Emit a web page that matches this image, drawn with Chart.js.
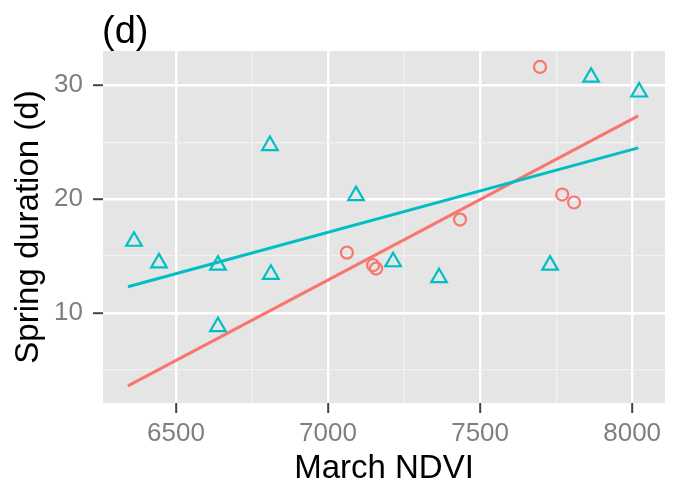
<!DOCTYPE html>
<html>
<head>
<meta charset="utf-8">
<script src="https://cdn.jsdelivr.net/npm/chart.js@4"></script>
<style>
  html, body { margin: 0; padding: 0; background: #ffffff; }
  #wrap { width: 678px; height: 485px; }
</style>
</head>
<body>
<div id="wrap"><canvas id="ndviChart"></canvas></div>
<script>
// red circles
const redX = [7062, 7148, 7158, 7434, 7697, 7770, 7809];
const redY = [15.3, 14.2, 13.9, 18.2, 31.6, 20.4, 19.7];

// teal triangles
const tealX = [6362, 6444, 6638, 6638, 6809, 6812, 7092, 7214, 7365, 7730, 7865, 8023];
const tealY = [16.3, 14.4, 14.2, 8.8, 24.7, 13.4, 20.3, 14.5, 13.1, 14.2, 30.7, 29.4];

// fitted lines (end points)
const redLineX = [6342, 8020];
const redLineY = [3.6, 27.3];
const tealLineX = [6342, 8020];
const tealLineY = [12.3, 24.5];

// ticks
const xMajor = [6500, 7000, 7500, 8000];
const xMinor = [6750, 7250, 7750];
const yMajor = [10, 20, 30];
const yMinor = [5, 15, 25];

const FONT = "'Liberation Sans', Arial, Helvetica, sans-serif";

function toPoints(xs, ys) {
    return xs.map(function(x, i){ return { x: x, y: ys[i] }; });
}

function gridColor(majors) {
    return function(ctx) {
        return majors.includes(ctx.tick.value) ? "#ffffff" : "#f2f2f2";
    };
}
function gridWidth(majors) {
    return function(ctx) {
        return majors.includes(ctx.tick.value) ? 2.4 : 1.2;
    };
}
function tickColor(majors) {
    return function(ctx) {
        return majors.includes(ctx.tick.value) ? "#444444" : "rgba(0,0,0,0)";
    };
}

// gray panel + "(d)" label
const panelPlugin = {
    id: "panel",
    beforeDraw: function(chart) {
        const a = chart.chartArea;
        const c = chart.ctx;
        c.save();
        c.fillStyle = "#e5e5e5";
        c.fillRect(a.left, a.top, a.right - a.left, a.bottom - a.top);
        c.fillStyle = "#000000";
        c.font = "38px " + FONT;
        c.textBaseline = "alphabetic";
        c.textAlign = "left";
        c.fillText("(d)", 102, 43);
        c.restore();
    }
};

new Chart(document.querySelector("#ndviChart"), {

    type: "scatter",

    data: {
        datasets: [
            {
                type: "line",
                data: toPoints(tealLineX, tealLineY),
                borderColor: "#00BFC4",
                borderWidth: 3,
                pointRadius: 0,
                fill: false
            },
            {
                type: "line",
                data: toPoints(redLineX, redLineY),
                borderColor: "#F8766D",
                borderWidth: 3,
                pointRadius: 0,
                fill: false
            },
            {
                data: toPoints(tealX, tealY),
                pointStyle: "triangle",
                pointRadius: 9,
                pointBorderWidth: 2.2,
                borderColor: "#00BFC4",
                backgroundColor: "rgba(0,0,0,0)"
            },
            {
                data: toPoints(redX, redY),
                pointStyle: "circle",
                pointRadius: 6,
                pointBorderWidth: 2.2,
                borderColor: "#F8766D",
                backgroundColor: "rgba(0,0,0,0)"
            }
        ]
    },

    options: {
        responsive: true,
        maintainAspectRatio: false,
        animation: false,
        layout: { padding: { top: 51, right: 13, left: 0, bottom: 0 } },
        plugins: {
            legend: { display: false },
            tooltip: { enabled: false }
        },
        scales: {
            x: {
                type: "linear",
                min: 6260,
                max: 8108,
                afterFit: function(s){ s.height = 82; },
                afterBuildTicks: function(s){
                    s.ticks = xMajor.concat(xMinor).map(function(v){ return { value: v }; });
                },
                border: { display: false },
                grid: {
                    color: gridColor(xMajor),
                    lineWidth: gridWidth(xMajor),
                    tickColor: tickColor(xMajor),
                    tickWidth: 2,
                    tickLength: 10
                },
                ticks: {
                    padding: 5,
                    color: "#7f7f7f",
                    font: { family: FONT, size: 26 },
                    maxRotation: 0,
                    autoSkip: false,
                    callback: function(v){ return xMajor.includes(v) ? String(v) : ""; }
                },
                title: {
                    display: true,
                    text: "March NDVI",
                    color: "#000000",
                    font: { family: FONT, size: 33, lineHeight: 1 },
                    padding: { top: 1, bottom: 0 }
                }
            },
            y: {
                type: "linear",
                min: 2.1,
                max: 33.0,
                afterFit: function(s){ s.width = 103; },
                afterBuildTicks: function(s){
                    s.ticks = yMajor.concat(yMinor).map(function(v){ return { value: v }; });
                },
                border: { display: false },
                grid: {
                    color: gridColor(yMajor),
                    lineWidth: gridWidth(yMajor),
                    tickColor: tickColor(yMajor),
                    tickWidth: 2,
                    tickLength: 10
                },
                ticks: {
                    padding: 10,
                    color: "#7f7f7f",
                    font: { family: FONT, size: 26 },
                    autoSkip: false,
                    callback: function(v){ return yMajor.includes(v) ? String(v) : ""; }
                },
                title: {
                    display: true,
                    text: "Spring duration (d)",
                    color: "#000000",
                    font: { family: FONT, size: 33, lineHeight: 1 },
                    padding: { top: 12, bottom: 0 }
                }
            }
        }
    },

    plugins: [panelPlugin]

});
</script>
</body>
</html>
